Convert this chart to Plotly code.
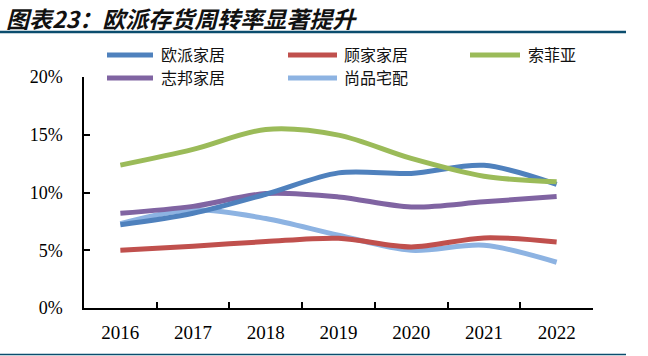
import plotly.graph_objects as go

years = ["2016", "2017", "2018", "2019", "2020", "2021", "2022"]
names = ["欧派家居", "顾家家居", "索菲亚", "志邦家居", "尚品宅配"]
oppein = [7.2, 8.2, 9.85, 11.7, 11.65, 12.35, 10.7]
kuka = [5.0, 5.35, 5.75, 6.04, 5.29, 6.07, 5.72]
sofia = [12.37, 13.73, 15.46, 14.97, 12.95, 11.41, 10.92]
zbom = [8.2, 8.8, 9.91, 9.62, 8.75, 9.19, 9.65]
shangpin = [7.3, 8.5, 7.75, 6.3, 5.0, 5.43, 3.96]
series = [oppein, kuka, sofia, zbom, shangpin]
colors = ["#4f81bd", "#c0504d", "#9bbb59", "#8064a2", "#8db3e2"]
y_ticks = [0, 0.05, 0.10, 0.15, 0.20]
y_ticklabels = ["0%", "5%", "10%", "15%", "20%"]

W, H = 648, 356
L, R, T, B = 84, 55, 77, 48

def px(x):
    return (x - L) / (W - L - R)

def py(y):
    return (H - B - y) / (H - T - B)

fig = go.Figure()
order = [4, 1, 3, 0, 2]
for i in order:
    fig.add_trace(go.Scatter(
        x=years, y=[v / 100 for v in series[i]], name=names[i], mode="lines",
        line=dict(color=colors[i], width=5, shape="spline", smoothing=0.9),
        showlegend=False,
    ))

serif = "Liberation Serif, Times New Roman, serif"
cjk = "Noto Sans CJK SC"

shapes = []
annotations = []
legend_pos = [(107, 153, 159, 54), (288, 337, 342, 54), (470, 520, 526, 54),
              (107, 153, 159, 77), (288, 337, 342, 77)]
for i, (x0, x1, tx, yy) in enumerate(legend_pos):
    shapes.append(dict(type="line", xref="paper", yref="paper",
                       x0=px(x0), x1=px(x1), y0=py(yy + 1), y1=py(yy + 1),
                       line=dict(color=colors[i], width=5)))
    annotations.append(dict(text=names[i], xref="paper", yref="paper",
                            x=px(tx), y=py(yy), xanchor="left", yanchor="middle",
                            showarrow=False,
                            font=dict(family=cjk, size=16, color="#111111")))

annotations.append(dict(text="<b><i>图表23：欧派存货周转率显著提升</i></b>",
                        xref="paper", yref="paper", x=px(4), y=py(17.5),
                        xanchor="left", yanchor="middle", showarrow=False,
                        font=dict(family=cjk, size=23, color="#111111")))
shapes.append(dict(type="line", xref="paper", yref="paper", x0=px(0), x1=px(626),
                   y0=py(32), y1=py(32), line=dict(color="#0b4d6e", width=2.5)))
shapes.append(dict(type="line", xref="paper", yref="paper", x0=px(0), x1=px(626),
                   y0=py(354.5), y1=py(354.5), line=dict(color="#0b4d6e", width=1.5)))

fig.update_layout(
    width=W, height=H,
    margin=dict(l=L, r=R, t=T, b=B, pad=0, autoexpand=False),
    paper_bgcolor="white", plot_bgcolor="white",
    shapes=shapes, annotations=annotations,
    xaxis=dict(type="category", range=[-0.5, 6.5], automargin=False,
               showgrid=False, showline=True, linecolor="black",
               linewidth=1.5, ticks="inside", tickson="boundaries", ticklen=6,
               tickcolor="black", tickwidth=1.5, zeroline=False,
               tickfont=dict(family=serif, size=19, color="black"),
               ticklabelstandoff=6),
    yaxis=dict(range=[0, 0.2], tickvals=y_ticks, ticktext=y_ticklabels,
               automargin=False,
               showgrid=False, showline=True, linecolor="black", linewidth=1.5,
               ticks="inside", ticklen=6, tickcolor="black", tickwidth=1.5,
               zeroline=False, tickfont=dict(family=serif, size=18, color="black"),
               ticklabelstandoff=16),
)

fig.write_html("out.html", config={"displayModeBar": False},
               post_script="document.body.style.margin='0';document.body.style.padding='0';")
